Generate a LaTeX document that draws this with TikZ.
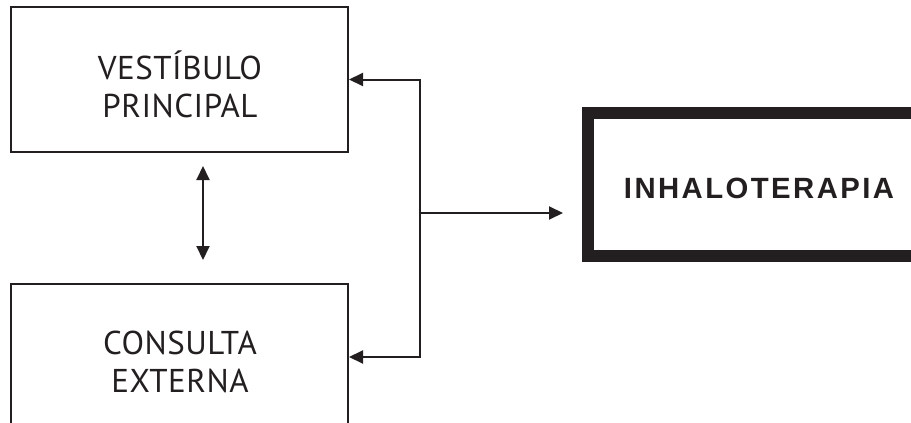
\documentclass[tikz,border=0pt]{standalone}
\usepackage{fontspec}
\setmainfont{PT Sans}[LetterSpace=1.5]
\newfontfamily\headf{Liberation Sans}[LetterSpace=8.3]
\usetikzlibrary{arrows.meta,calc}
\definecolor{ink}{HTML}{231F20}
\begin{document}
\begin{tikzpicture}[x=1pt,y=-1pt,
  thinbox/.style={draw=ink,line width=2pt,inner sep=0pt},
  arr/.style={draw=ink,line width=2pt,-{Triangle[length=14pt,width=13pt]}},
  darr/.style={draw=ink,line width=2pt,{Triangle[length=14pt,width=13pt]}-{Triangle[length=14pt,width=13pt]}},
  lbl/.style={align=center,font=\fontsize{33}{38}\selectfont,text=ink,inner sep=0pt},
  blbl/.style={font=\headf\bfseries\fontsize{29.3}{36}\selectfont,text=ink,inner sep=0pt}]
\useasboundingbox (0,0) rectangle (911,423);
\clip (0,0) rectangle (911,423);
\node[thinbox,minimum width=337pt,minimum height=145pt] (b1) at (179.5,79.5) {};
\node[thinbox,minimum width=337pt,minimum height=146pt] (b2) at (179.5,357) {};
\node[draw=ink,line width=12pt,minimum width=342pt,minimum height=143pt,inner sep=0pt] (inh) at (759,184.5) {};
\node[lbl] (t1) at (180,84) {VESTÍBULO\\PRINCIPAL};
\node[lbl] (t2) at (180,362) {CONSULTA\\EXTERNA};
\node[blbl] (t3) at (759,188) {INHALOTERAPIA};
\coordinate (a1) at (203,166);
\coordinate (a2) at (203,260);
\coordinate (j) at (420,213);
\draw[darr] (a1) -- (a2);
\draw[arr] (j) |- (b1.east);
\draw[arr] (j) |- (b2.east);
\draw[arr,shorten >=19pt] (j) -- (inh.west |- j);
\end{tikzpicture}
\end{document}
